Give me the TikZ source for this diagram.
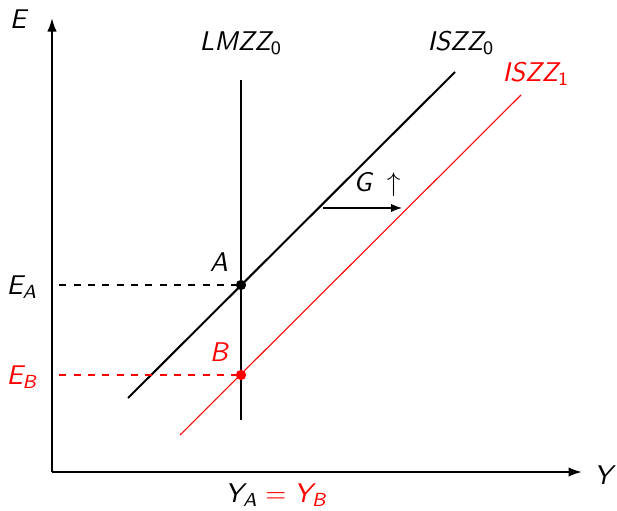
\documentclass[tikz,border=0pt]{standalone}
\usepackage{amsmath}
\usetikzlibrary{arrows.meta}
\newcommand{\si}[1]{\textsf{\itshape #1}}
\newcommand{\su}[1]{\textsf{#1}}
\begin{document}
\begin{tikzpicture}[x=0.37pt,y=-0.37pt,
  thk/.style={line width=0.75pt},
  thn/.style={line width=0.4pt},
  dsh/.style={line width=0.55pt,dash pattern=on 2.6pt off 2.7pt,dash phase=-2.7pt},
  lbl/.style={inner sep=0pt,font=\fontsize{10}{12}\selectfont},
  axarrow/.style={-{Latex[length=5pt,width=3.5pt]}}]
\useasboundingbox (0,0) rectangle (617,510);
% axes
\coordinate (O) at (52,472);
\coordinate (Etop) at (52,18);
\coordinate (Yend) at (582,472);
\draw[thk,axarrow] (O) -- (Etop);
\draw[thk,axarrow] (O) -- (Yend);
\node[lbl] (E) at (18,19) {$\si{E}$};
\node[lbl] (Y) at (603,475) {$\si{Y}$};
% LM
\coordinate (LMt) at (241,80);
\coordinate (LMb) at (241,420);
\draw[thk] (LMt) -- (LMb);
\node[lbl] (LMl) at (241,43) {$\si{LMZZ}_{\su{0}}$};
% IS0
\coordinate (IS0a) at (128,398);
\coordinate (IS0b) at (455,72);
\draw[thk] (IS0a) -- (IS0b);
\node[lbl] (IS0l) at (461,43) {$\si{ISZZ}_{\su{0}}$};
% IS1
\coordinate (IS1a) at (180,435);
\coordinate (IS1b) at (521,95);
\draw[thn,red] (IS1a) -- (IS1b);
\node[lbl,red] (IS1l) at (536,74) {$\si{ISZZ}_{\su{1}}$};
% points
\coordinate (A) at (241,285);
\coordinate (B) at (241,375);
\coordinate (EAc) at (52,285);
\coordinate (EBc) at (52,375);
\draw[dsh] (EAc) -- (A);
\draw[dsh,red] (EBc) -- (B);
\fill (A) circle (1.9pt);
\fill[red] (B) circle (1.9pt);
\node[lbl] (Al) at (219,262) {$\si{A}$};
\node[lbl,red] (Bl) at (219,352) {$\si{B}$};
\node[lbl] (EA) at (22,287) {$\si{E}_{\si{A}}$};
\node[lbl,red] (EB) at (22,377) {$\si{E}_{\si{B}}$};
\node[lbl] (YAB) at (276,495) {$\si{Y}_{\si{A}}\textcolor{red}{{}=\si{Y}_{\si{B}}}$};
% shift arrow
\coordinate (Gs) at (323,208);
\coordinate (Ge) at (402,208);
\draw[thn,-{Latex[length=4pt,width=3pt]}] (Gs) -- (Ge);
\node[lbl] (G) at (377,185) {$\si{G}\;\uparrow$};
\end{tikzpicture}
\end{document}
